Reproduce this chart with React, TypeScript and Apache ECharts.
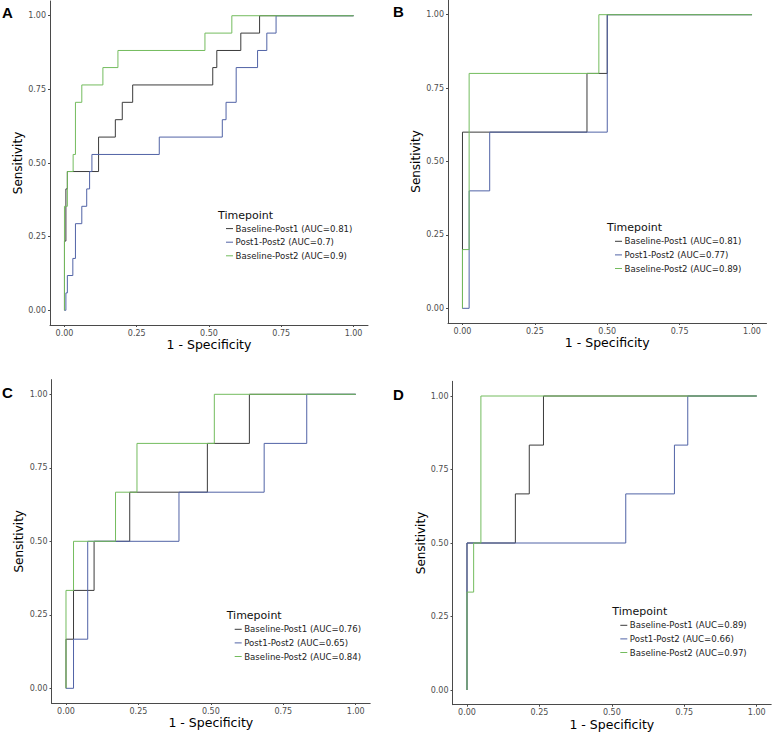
import React, { useEffect, useRef } from "react";
import * as echarts from "echarts";

// ---------- data ----------
const GROUPS = ["Baseline-Post1", "Post1-Post2", "Baseline-Post2"];
const COLORS = ["#3b3b3b", "#5163a6", "#74bc5e"];
const TICKS = [0, 0.25, 0.5, 0.75, 1];
const PANEL_LABELS = ["A", "B", "C", "D"];
const LEGEND_TITLE = "Timepoint";
const X_TITLE = "1 - Specificity";
const Y_TITLE = "Sensitivity";

// ROC points [1 - specificity, sensitivity]; curve steps horizontally then up
const A_BASE_POST1 = [[0, 0], [0, 0.235], [0.005, 0.412], [0.01, 0.471], [0.118, 0.588], [0.176, 0.647], [0.2, 0.706], [0.236, 0.765], [0.513, 0.824], [0.527, 0.882], [0.61, 0.941], [0.675, 1], [1, 1]];
const A_POST1_POST2 = [[0, 0], [0.005, 0.059], [0.01, 0.118], [0.029, 0.176], [0.038, 0.294], [0.06, 0.353], [0.077, 0.412], [0.087, 0.471], [0.095, 0.529], [0.328, 0.588], [0.546, 0.647], [0.559, 0.706], [0.594, 0.824], [0.668, 0.882], [0.7, 0.941], [0.732, 1], [1, 1]];
const A_BASE_POST2 = [[0, 0], [0, 0.353], [0.01, 0.471], [0.03, 0.529], [0.038, 0.706], [0.06, 0.765], [0.133, 0.824], [0.185, 0.882], [0.486, 0.941], [0.579, 1], [1, 1]];
const A_AUC = [0.81, 0.7, 0.9];

const B_BASE_POST1 = [[0, 0], [0, 0.6], [0.43, 0.8], [0.5, 1], [1, 1]];
const B_POST1_POST2 = [[0, 0], [0.023, 0.4], [0.094, 0.6], [0.5, 1], [1, 1]];
const B_BASE_POST2 = [[0, 0], [0, 0.2], [0.023, 0.8], [0.471, 1], [1, 1]];
const B_AUC = [0.81, 0.77, 0.89];

const C_BASE_POST1 = [[0, 0], [0, 0.167], [0.026, 0.333], [0.097, 0.5], [0.22, 0.667], [0.488, 0.833], [0.633, 1], [1, 1]];
const C_POST1_POST2 = [[0, 0], [0.026, 0.167], [0.075, 0.5], [0.39, 0.667], [0.684, 0.833], [0.831, 1], [1, 1]];
const C_BASE_POST2 = [[0, 0], [0, 0.333], [0.026, 0.5], [0.171, 0.667], [0.245, 0.833], [0.512, 1], [1, 1]];
const C_AUC = [0.76, 0.65, 0.84];

const D_BASE_POST1 = [[0, 0], [0, 0.5], [0.167, 0.667], [0.215, 0.833], [0.264, 1], [1, 1]];
const D_POST1_POST2 = [[0, 0], [0, 0.5], [0.548, 0.667], [0.716, 0.833], [0.762, 1], [1, 1]];
const D_BASE_POST2 = [[0, 0], [0, 0.333], [0.023, 0.5], [0.048, 1], [1, 1]];
const D_AUC = [0.89, 0.66, 0.97];

const PANEL_CURVES = [
  [A_BASE_POST1, A_POST1_POST2, A_BASE_POST2],
  [B_BASE_POST1, B_POST1_POST2, B_BASE_POST2],
  [C_BASE_POST1, C_POST1_POST2, C_BASE_POST2],
  [D_BASE_POST1, D_POST1_POST2, D_BASE_POST2],
];
const PANEL_AUC = [A_AUC, B_AUC, C_AUC, D_AUC];

// ---------- layout ----------
const FONT = "DejaVu Sans";
const LAYOUT = [
  { left: 50, top: 1, width: 318, height: 324, yGap: 22, label: [2, 5], legend: [218, 215] },
  { left: 448, top: 0, width: 318.5, height: 323, yGap: 24, label: [393, 4], legend: [607, 227.7] },
  { left: 51.5, top: 379.6, width: 318.7, height: 323.4, yGap: 27, label: [2, 385], legend: [226.7, 615.7] },
  { left: 452.5, top: 381.3, width: 318.7, height: 323.4, yGap: 23, label: [393, 387], legend: [612.3, 611.7] },
];

function buildOption() {
  const grid: any[] = [];
  const xAxis: any[] = [];
  const yAxis: any[] = [];
  const series: any[] = [];
  const graphic: any[] = [];
  const axisLine = { show: true, onZero: false, lineStyle: { color: "#4a4a4a", width: 1 } };
  const axisTick = { show: true, length: 2, customValues: TICKS, lineStyle: { color: "#4a4a4a", width: 1 } };
  const fmt = (v: number) => v.toFixed(2);

  LAYOUT.forEach((L, i) => {
    grid.push({ left: L.left, top: L.top, width: L.width, height: L.height, containLabel: false });
    xAxis.push({
      type: "value", gridIndex: i, min: -0.05, max: 1.05, position: "bottom",
      axisLine, axisTick,
      axisLabel: { customValues: TICKS, formatter: fmt, color: "#4d4d4d", fontSize: 8, fontFamily: FONT, margin: 4 },
      splitLine: { show: false },
      name: X_TITLE, nameLocation: "middle", nameGap: 13,
      nameTextStyle: { color: "#000", fontSize: 12.5, fontFamily: FONT },
    });
    yAxis.push({
      type: "value", gridIndex: i, min: -0.05, max: 1.05, position: "left",
      axisLine, axisTick,
      axisLabel: { customValues: TICKS, formatter: fmt, color: "#4d4d4d", fontSize: 8, fontFamily: FONT, margin: 4 },
      splitLine: { show: false },
      name: Y_TITLE, nameLocation: "middle", nameGap: L.yGap,
      nameTextStyle: { color: "#000", fontSize: 12, fontFamily: FONT },
    });
    PANEL_CURVES[i].forEach((curve, k) => {
      series.push({
        type: "line", name: GROUPS[k], xAxisIndex: i, yAxisIndex: i,
        data: curve, step: "end", showSymbol: false, symbol: "none",
        lineStyle: { color: COLORS[k], width: 1 }, itemStyle: { color: COLORS[k] },
        silent: true, z: 2 + k,
      });
    });
    // panel letter
    graphic.push({
      type: "text", x: L.label[0], y: L.label[1],
      style: { text: PANEL_LABELS[i], font: "bold 15px 'Liberation Sans'", fill: "#000", align: "left", verticalAlign: "top" },
    });
    // legend
    const [lx, ly] = L.legend;
    graphic.push({
      type: "text", x: lx, y: ly,
      style: { text: LEGEND_TITLE, font: `11px '${FONT}'`, fill: "#111", align: "left", verticalAlign: "middle" },
    });
    GROUPS.forEach((g, k) => {
      const yy = ly + 13.6 * (k + 1);
      graphic.push({
        type: "line", shape: { x1: lx + 8, y1: yy, x2: lx + 15, y2: yy },
        style: { stroke: COLORS[k], lineWidth: 1 },
      });
      graphic.push({
        type: "text", x: lx + 17.5, y: yy,
        style: { text: `${g} (AUC=${PANEL_AUC[i][k]})`, font: `8.6px '${FONT}'`, fill: "#222", align: "left", verticalAlign: "middle" },
      });
    });
  });

  return {
    animation: false,
    backgroundColor: "#ffffff",
    grid, xAxis, yAxis, series, graphic,
  };
}

export default function App() {
  const ref = useRef<HTMLDivElement | null>(null);
  useEffect(() => {
    document.body.style.margin = "0";
    if (!ref.current) return;
    const chart = echarts.init(ref.current, null, { renderer: "svg" });
    chart.setOption(buildOption() as any);
    return () => chart.dispose();
  }, []);
  return <div ref={ref} style={{ width: 772, height: 734 }} />;
}
